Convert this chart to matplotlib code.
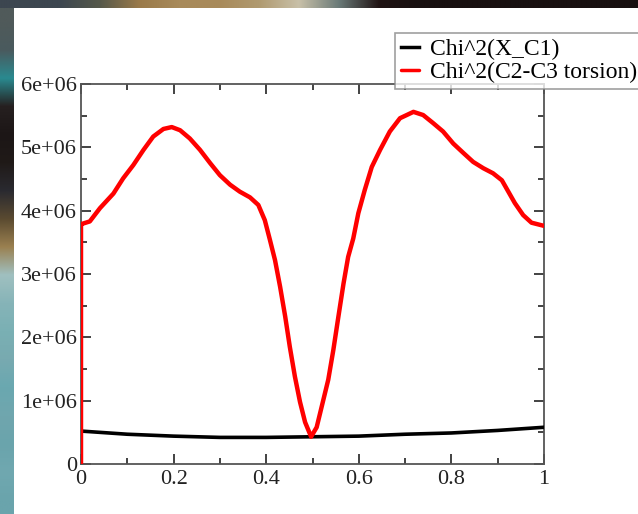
import numpy as np
import matplotlib
matplotlib.use("Agg")
import matplotlib.pyplot as plt
from matplotlib.ticker import MultipleLocator, FixedLocator, FixedFormatter
from matplotlib.colors import to_rgb

# ---- data ----
x_red = [0.0, 0.0, 0.0015, 0.019, 0.041, 0.070, 0.091, 0.113, 0.135, 0.156,
         0.178, 0.196, 0.214, 0.235, 0.257, 0.279, 0.300, 0.322, 0.343, 0.365,
         0.383, 0.397, 0.408, 0.419, 0.430, 0.441, 0.451, 0.462, 0.473, 0.484,
         0.497, 0.509, 0.523, 0.534, 0.545, 0.556, 0.567, 0.577, 0.588, 0.599,
         0.613, 0.628, 0.646, 0.667, 0.689, 0.718, 0.739, 0.761, 0.782, 0.804,
         0.826, 0.847, 0.869, 0.890, 0.909, 0.923, 0.937, 0.955, 0.973, 1.0]
y_red_e6 = [0.0, 3.77, 3.79, 3.83, 4.04, 4.27, 4.51, 4.72, 4.96, 5.17,
            5.29, 5.32, 5.27, 5.14, 4.96, 4.75, 4.56, 4.41, 4.30, 4.21,
            4.09, 3.85, 3.54, 3.22, 2.80, 2.33, 1.85, 1.38, 0.98, 0.66,
            0.43, 0.58, 1.00, 1.33, 1.80, 2.33, 2.85, 3.27, 3.56, 3.96,
            4.33, 4.69, 4.96, 5.25, 5.46, 5.56, 5.51, 5.38, 5.25, 5.06,
            4.91, 4.77, 4.67, 4.59, 4.48, 4.30, 4.12, 3.93, 3.81, 3.76]

x_black = [0.0, 0.1, 0.2, 0.3, 0.4, 0.5, 0.6, 0.7, 0.8, 0.9, 1.0]
y_black_e6 = [0.52, 0.47, 0.44, 0.42, 0.42, 0.43, 0.44, 0.47, 0.49, 0.53, 0.58]

label_black = "Chi^2(X_C1)"
label_red = "Chi^2(C2-C3 torsion)"

xticks = [0, 0.2, 0.4, 0.6, 0.8, 1.0]
xtick_labels = ["0", "0.2", "0.4", "0.6", "0.8", "1"]
yticks = [0, 1e6, 2e6, 3e6, 4e6, 5e6, 6e6]
ytick_labels = ["0", "1e+06", "2e+06", "3e+06", "4e+06", "5e+06", "6e+06"]

# decorative background strip colours (photo behind the slide)
top_strip = ["#3c4650", "#3c4650", "#55584a", "#9a7a4a", "#a88a5a", "#a88a5a", "#b09a70",
             "#c8c0a8", "#6a7a78", "#201414", "#181010", "#181010", "#181010", "#181010",
             "#181010", "#181010"]
left_strip = ["#505a5a", "#4a5a5e", "#2a8a90", "#262020", "#1c1616", "#201a18", "#2a2a30",
              "#5a4a30", "#9a8050", "#a0c0c0", "#86b4b8", "#7ab0b4", "#78aab0", "#6aa8b0",
              "#70a6ae", "#6aa4ac", "#70a8b0", "#6aa4ac"]

W, H = 638, 514
fig = plt.figure(figsize=(W / 100, H / 100), dpi=100)
fig.patch.set_facecolor("white")

# background strips
axt = fig.add_axes([0, 1 - 8 / H, 1, 8 / H])
axt.imshow(np.array([[to_rgb(c) for c in top_strip]]), aspect="auto", interpolation="bilinear")
axt.axis("off")
axl = fig.add_axes([0, 0, 14 / W, 1 - 8 / H])
axl.imshow(np.array([[to_rgb(c)] for c in left_strip]), aspect="auto", interpolation="bilinear")
axl.axis("off")

# main axes
L, R, T, B = 81, 544, 84, 464
ax = fig.add_axes([L / W, 1 - B / H, (R - L) / W, (B - T) / H])
ax.set_facecolor("white")

l1, = ax.plot(x_black, np.array(y_black_e6) * 1e6, color="black", lw=2.6,
              label=label_black, zorder=3)
l2, = ax.plot(x_red, np.array(y_red_e6) * 1e6, color="#ff0000", lw=3.2,
              label=label_red, zorder=4, solid_joinstyle="round", solid_capstyle="round")

ax.set_xlim(0, 1)
ax.set_ylim(0, 6e6)

font = "Liberation Serif"
ax.xaxis.set_major_locator(FixedLocator(xticks))
ax.xaxis.set_major_formatter(FixedFormatter(xtick_labels))
ax.yaxis.set_major_locator(FixedLocator(yticks))
ax.yaxis.set_major_formatter(FixedFormatter(ytick_labels))
ax.xaxis.set_minor_locator(MultipleLocator(0.1))
ax.yaxis.set_minor_locator(MultipleLocator(0.5e6))
ax.tick_params(which="both", direction="in", top=True, right=True, color="#222222", width=1.2)
ax.tick_params(which="major", length=7)
ax.tick_params(which="minor", length=4)
ax.tick_params(axis="x", which="major", pad=4)
ax.tick_params(axis="y", which="major", pad=3)
for lab in ax.get_xticklabels() + ax.get_yticklabels():
    lab.set_fontfamily(font)
    lab.set_fontsize(16)
    lab.set_color("#222222")

for s in ax.spines.values():
    s.set_color("#555555")
    s.set_linewidth(1.3)

leg = fig.legend(handles=[l1, l2], loc="upper left",
                 bbox_to_anchor=(395 / W, 1 - 33 / H), bbox_transform=fig.transFigure,
                 prop={"family": font, "size": 17}, frameon=True, fancybox=False,
                 borderaxespad=0, borderpad=0.25, handlelength=0.75, handletextpad=0.5,
                 labelspacing=0.05)
leg.get_frame().set_edgecolor("#888888")
leg.get_frame().set_linewidth(1.2)
for line in leg.get_lines():
    line.set_linewidth(2.5)

fig.savefig("out.png", dpi=100, facecolor=fig.get_facecolor())
